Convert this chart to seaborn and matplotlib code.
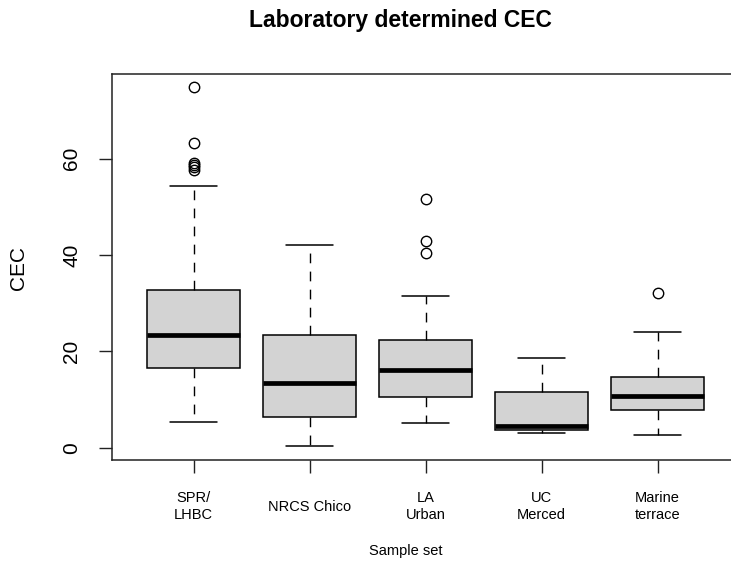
import numpy as np
import pandas as pd
import matplotlib
matplotlib.use("Agg")
import matplotlib.pyplot as plt
import seaborn as sns

# Five-number summaries of laboratory CEC for each sample set
groups = ["SPR/\nLHBC", "NRCS Chico", "LA\nUrban", "UC\nMerced", "Marine\nterrace"]
whisker_low = [5.4, 0.4, 5.1, 3.0, 2.6]
q1 = [16.5, 6.3, 10.5, 3.7, 7.9]
median = [23.3, 13.4, 16.1, 4.4, 10.8]
q3 = [32.7, 23.4, 22.3, 11.6, 14.7]
whisker_high = [54.3, 42.0, 31.4, 18.6, 24.1]
outliers = [
    [57.7, 58.2, 58.7, 59.2, 63.3, 74.8],
    [],
    [40.4, 42.9, 51.7],
    [],
    [32.2],
]
y_ticks = [0, 20, 40, 60]


def expand_summary(lo, a, m, b, hi, extra, k=8):
    """Sample of 4k+1 values whose linear quartiles equal (a, m, b),
    with whisker ends lo/hi and the given outliers on top."""
    top = [hi] * (k - len(extra)) + list(extra)
    return [lo] + [a] * k + [m] * k + [b] * k + top


rows = []
for g, lo, a, m, b, hi, extra in zip(groups, whisker_low, q1, median, q3,
                                     whisker_high, outliers):
    for v in expand_summary(lo, a, m, b, hi, extra):
        rows.append({"set": g, "CEC": v})
df = pd.DataFrame(rows)

sns.set_style("ticks")
plt.rcParams["font.family"] = ["Liberation Sans", "DejaVu Sans"]
plt.rcParams["text.color"] = "black"
plt.rcParams["xtick.color"] = "black"
plt.rcParams["ytick.color"] = "black"
plt.rcParams["axes.labelcolor"] = "black"

W, H = 731, 565
fig = plt.figure(figsize=(W / 100, H / 100), dpi=100)
ax_left, ax_right, ax_top, ax_bottom = 112.3, 738.7, 74.0, 460.3
ax = fig.add_axes([ax_left / W, 1 - ax_bottom / H,
                   (ax_right - ax_left) / W, (ax_bottom - ax_top) / H])

sns.boxplot(
    data=df, x="set", y="CEC", order=groups, ax=ax,
    color="#D3D3D3", saturation=1, width=0.8,
    linecolor="black", linewidth=1.1, fliersize=7.5,
    whiskerprops=dict(linestyle=(0, (7, 6)), linewidth=1.0),
    capprops=dict(linewidth=1.1),
    medianprops=dict(linewidth=3.4, color="black"),
    flierprops=dict(marker="o", markerfacecolor="none",
                    markeredgecolor="black", markeredgewidth=1.0),
)

ax.set_xlim(-0.7, 4.7)
ax.set_ylim(-2.62, 77.6)

ax.set_xticks(range(len(groups)), labels=groups, va="center",
              linespacing=1.3, fontsize=10.5, color="black")
ax.set_yticks(y_ticks, labels=[str(t) for t in y_ticks], rotation=90,
              va="center", fontsize=15, color="black")
ax.tick_params(axis="x", length=9.5, width=1.0, pad=24, color="#222222")
ax.tick_params(axis="y", length=9.5, width=1.0, pad=13, color="#222222")

for s in ax.spines.values():
    s.set_color("#222222")
    s.set_linewidth(1.1)

ax.set_xlabel("")
ax.set_ylabel("")

fig.text(400 / W, 1 - 26.7 / H, "Laboratory determined CEC",
         ha="center", va="baseline", fontsize=16.5, fontweight="bold")
fig.text(406 / W, 1 - 555 / H, "Sample set",
         ha="center", va="baseline", fontsize=10.5)
fig.text(18.5 / W, 1 - 268 / H, "CEC", rotation=90,
         ha="center", va="center", fontsize=15)

fig.savefig("out.png", dpi=100)
